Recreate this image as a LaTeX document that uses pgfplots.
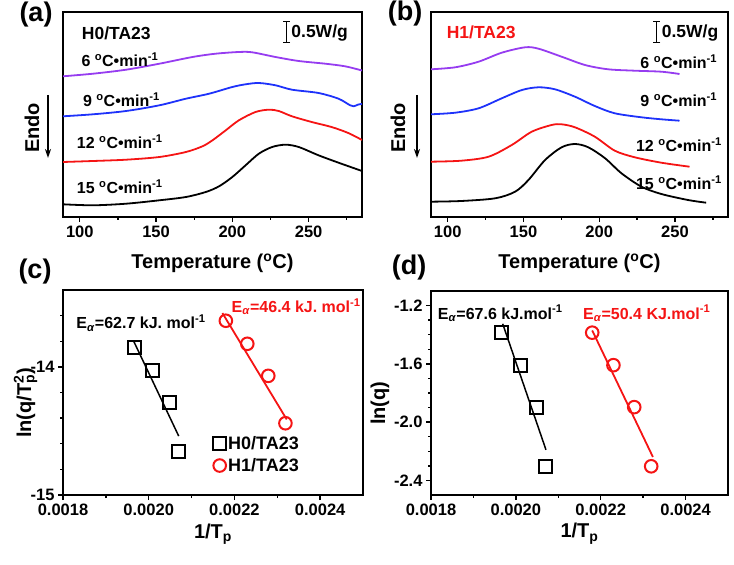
\documentclass[border=0pt]{standalone}
\usepackage{fontspec}
\setmainfont{Liberation Sans}
\usepackage{pgfplots}
\pgfplotsset{compat=1.18}
\usetikzlibrary{arrows.meta}

\definecolor{cpurple}{RGB}{150,60,240}
\definecolor{cblue}{RGB}{30,50,250}
\definecolor{cred}{RGB}{245,20,20}

\tikzset{lbl/.style={font=\bfseries\fontsize{16}{16}\selectfont},
         big/.style={font=\bfseries\fontsize{17.5}{17.5}\selectfont}}

\pgfplotsset{
  base/.style={
    scale only axis,
    axis line style={line width=1.5pt},
    tick style={line width=1.3pt, black},
    major tick length=5pt, minor tick length=3pt,
    tick align=outside, tick pos=left,
    tick label style={font=\bfseries\fontsize{16.5}{16.5}\selectfont},
    /pgf/number format/assume math mode=true,
    label style={font=\bfseries\fontsize{20}{20}\selectfont},
  },
  dsc/.style={base,
    xmin=89, xmax=285, ymin=0, ymax=205,
    xtick={100,150,200,250}, minor xtick={125,175,225,275},
    ytick=\empty,
    xlabel={Temperature (\textsuperscript{o}C)},
    xlabel style={at={(0.5,-0.225)}, anchor=center},
  },
  kin/.style={base,
    xmin=0.0018, xmax=0.0025,
    xtick={0.0018,0.0020,0.0022,0.0024}, minor xtick={0.0019,0.0021,0.0023},
    scaled x ticks=false,
    xticklabel style={/pgf/number format/.cd, fixed, fixed zerofill, precision=4},
    xlabel={1/T\textsubscript{p}},
    xlabel style={at={(0.5,-0.19)}, anchor=center},
  },
  curve/.style={line width=1.8pt, smooth, tension=0.5},
  sq/.style={only marks, mark=square, mark size=6.5pt, mark options={line width=2pt, solid}, black},
  ci/.style={only marks, mark=o, mark size=6.3pt, mark options={line width=2pt, solid}, cred},
}

\begin{document}
\begin{tikzpicture}[x=1pt,y=1pt]
\useasboundingbox (0,0) rectangle (734,565);

% ---------------- (a) ----------------
\begin{axis}[dsc, at={(63pt,348pt)}, anchor=south west, width=299pt, height=205pt]
\addplot[curve, cpurple] coordinates {(89,140.7) (108.7,143.3) (130.4,147.3) (152.2,153.3) (173.9,160) (189.1,163.3) (204.3,165) (213,164.7) (228.3,160) (243.5,156) (260.9,153.3) (273.9,150.7) (285,146.5)};
\addplot[curve, cblue] coordinates {(89,100.7) (108.7,102.7) (130.4,106) (152.2,111.7) (169.6,118.3) (184.8,123.3) (200,130) (208.7,132.7) (217.4,134) (228.3,131.7) (239.1,127.3) (256.5,124) (269.6,118.3) (277.2,111.7) (279.6,110.7) (282.6,112.5) (285,113)};
\addplot[curve, cred] coordinates {(89,55) (108.7,56) (130.4,57.3) (152.2,60) (169.6,65) (180.4,70.7) (187,76.7) (195.7,86.7) (204.3,96.7) (215.2,105) (223.9,107.3) (230.4,106) (239.1,100.7) (252,95) (265,90) (276,84) (285,77)};
\addplot[curve, black] coordinates {(89,12.7) (108.7,11.7) (130.4,13.3) (152.2,16.7) (169.6,20) (182.6,25) (191.3,30.7) (200,40) (208.7,51.7) (217.4,63.3) (226.1,70) (234.8,72.3) (243.5,70) (256.5,61.7) (269.6,54.3) (285,46)};
\node[big, anchor=west, inner sep=0pt] at (101.3,184) {H0/TA23};
\node[lbl, anchor=west, inner sep=0pt] at (101,157) {6 \textsuperscript{o}C•min\textsuperscript{-1}};
\node[lbl, anchor=west, inner sep=0pt] at (102,117) {9 \textsuperscript{o}C•min\textsuperscript{-1}};
\node[lbl, anchor=west, inner sep=0pt] at (98,75.3) {12 \textsuperscript{o}C•min\textsuperscript{-1}};
\node[lbl, anchor=west, inner sep=0pt] at (98,30.3) {15 \textsuperscript{o}C•min\textsuperscript{-1}};
\draw[line width=1.3pt, {Bar[width=7pt]}-{Bar[width=7pt]}] (235.6,173.7) -- (235.6,196.3);
\node[big, anchor=west, inner sep=0pt] at (238.6,184) {0.5W/g};
\end{axis}

% ---------------- (b) ----------------
\begin{axis}[dsc, at={(431pt,348pt)}, anchor=south west, width=297pt, height=205pt]
\addplot[curve, cpurple] coordinates {(89,147.7) (105,149.7) (120.4,155.3) (135.7,164.3) (151.1,169.7) (159.9,168.3) (175.2,160.3) (190.6,152) (205.9,147.7) (223.5,146.3) (241,145.3) (253,143)};
\addplot[curve, cblue] coordinates {(89,102.7) (105,104.3) (120.4,108.7) (135.7,118.7) (149,127) (159.9,129.7) (170.8,127.7) (184,120.3) (197.1,111) (210.3,103.7) (227.9,99.7) (241,97.7) (253,96.3)};
\addplot[curve, cred] coordinates {(89,55.3) (109,56.3) (127,60.3) (142.3,72) (155.5,85.3) (168.6,92) (175.2,92.7) (184,89.7) (197.1,80.3) (210.3,66.3) (223.5,59.7) (241,54.3) (259.6,50.3)};
\addplot[curve, black] coordinates {(89,15.3) (109,16) (131.4,18.7) (144.5,25.3) (153.3,37) (164.3,57) (175.2,69.7) (184,73) (192.8,69.7) (203.9,58.7) (214.7,43.7) (227.9,30.3) (241,23) (258.6,17) (270.6,14.3)};
\node[big, anchor=west, inner sep=0pt, text=cred] at (99.3,185) {H1/TA23};
\node[lbl, anchor=east, inner sep=0pt] at (278,155) {6 \textsuperscript{o}C•min\textsuperscript{-1}};
\node[lbl, anchor=east, inner sep=0pt] at (278,117) {9 \textsuperscript{o}C•min\textsuperscript{-1}};
\node[lbl, anchor=east, inner sep=0pt] at (281,72) {12 \textsuperscript{o}C•min\textsuperscript{-1}};
\node[lbl, anchor=east, inner sep=0pt] at (281,34) {15 \textsuperscript{o}C•min\textsuperscript{-1}};
\draw[line width=1.3pt, {Bar[width=7pt]}-{Bar[width=7pt]}] (238,173.7) -- (238,196.3);
\node[big, anchor=west, inner sep=0pt] at (241.2,184) {0.5W/g};
\end{axis}

% ---------------- (c) ----------------
\begin{axis}[kin, at={(63pt,70pt)}, anchor=south west, width=300pt, height=205pt,
  ymin=-15, ymax=-13.4, ytick={-15,-14},
  minor ytick={-14.8,-14.6,-14.4,-14.2,-13.8,-13.6},
  ylabel={ln(q/T\rlap{\textsuperscript{2}}\textsubscript{p})},
  ylabel style={at={(-0.125,0.45)}, anchor=center},
  legend style={draw=none, fill=none, at={(0.5,0.295)}, anchor=north west,
    font=\bfseries\fontsize{18}{18}\selectfont, row sep=3pt, inner sep=0pt},
  legend cell align=left]
\addplot[sq] coordinates {(0.001966,-13.85) (0.002010,-14.03) (0.002048,-14.28) (0.002070,-14.66)};
\addlegendentry{H0/TA23}
\addplot[ci] coordinates {(0.002180,-13.64) (0.002230,-13.82) (0.002279,-14.07) (0.002319,-14.44)};
\addlegendentry{H1/TA23}
\addplot[black, line width=1.5pt, forget plot] coordinates {(0.001965,-13.80) (0.002070,-14.54)};
\addplot[cred, line width=1.8pt, forget plot] coordinates {(0.002172,-13.58) (0.002322,-14.41)};
\node[lbl, anchor=west, inner sep=0pt] at (0.001831,-13.66) {E\textsubscript{\textit{α}}=62.7 kJ. mol\textsuperscript{-1}};
\node[lbl, anchor=west, inner sep=0pt, text=cred] at (0.002193,-13.53) {E\textsubscript{\textit{α}}=46.4 kJ. mol\textsuperscript{-1}};
\end{axis}

% ---------------- (d) ----------------
\begin{axis}[kin, at={(431pt,70pt)}, anchor=south west, width=297pt, height=204pt,
  ymin=-2.5, ymax=-1.1, ytick={-2.4,-2.0,-1.6,-1.2},
  minor ytick={-2.3,-2.2,-2.1,-1.9,-1.8,-1.7,-1.5,-1.4,-1.3},
  yticklabel style={/pgf/number format/.cd, fixed, fixed zerofill, precision=1},
  ylabel={ln(q)},
  ylabel style={at={(-0.172,0.45)}, anchor=center}]
\addplot[sq] coordinates {(0.001966,-1.386) (0.002010,-1.609) (0.002048,-1.897) (0.002070,-2.303)};
\addplot[ci] coordinates {(0.002180,-1.386) (0.002230,-1.609) (0.002279,-1.897) (0.002319,-2.303)};
\addplot[black, line width=1.5pt] coordinates {(0.001969,-1.325) (0.002071,-2.19)};
\addplot[cred, line width=1.8pt] coordinates {(0.00218,-1.371) (0.002323,-2.239)};
\node[lbl, anchor=west, inner sep=0pt] at (0.001816,-1.255) {E\textsubscript{\textit{α}}=67.6 kJ.mol\textsuperscript{-1}};
\node[lbl, anchor=west, inner sep=0pt, text=cred] at (0.002158,-1.255) {E\textsubscript{\textit{α}}=50.4 KJ.mol\textsuperscript{-1}};
\end{axis}

% ---------------- panel letters and Endo ----------------
\node[font=\bfseries\fontsize{27}{27}\selectfont] at (36,550) {(a)};
\node[font=\bfseries\fontsize{27}{27}\selectfont] at (405,551) {(b)};
\node[font=\bfseries\fontsize{27}{27}\selectfont] at (35,293) {(c)};
\node[font=\bfseries\fontsize{27}{27}\selectfont] at (409,297) {(d)};
\node[rotate=90, font=\bfseries\fontsize{20}{20}\selectfont] at (32,437) {Endo};
\draw[-{Stealth[length=9pt,width=6pt]}, line width=1.5pt] (48,470) -- (48,407);
\node[rotate=90, font=\bfseries\fontsize{20}{20}\selectfont] at (398,437) {Endo};
\draw[-{Stealth[length=9pt,width=6pt]}, line width=1.5pt] (417,470) -- (417,407);
\end{tikzpicture}
\end{document}
